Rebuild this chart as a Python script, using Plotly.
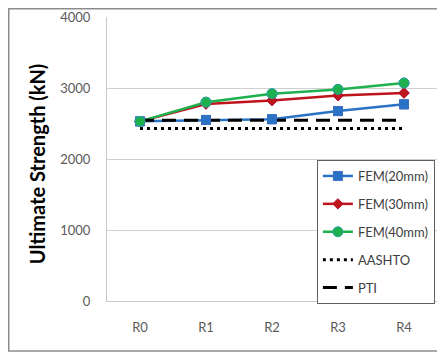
import plotly.graph_objects as go

categories = ["R0", "R1", "R2", "R3", "R4"]
fem20 = [2530, 2550, 2560, 2675, 2770]
fem30 = [2530, 2775, 2825, 2895, 2930]
fem40 = [2530, 2800, 2920, 2980, 3070]
aashto = [2430, 2430, 2430, 2430, 2430]
pti = [2545, 2545, 2545, 2545, 2545]

FONT = "Lato"
fig = go.Figure()

series = [
    ("FEM(20mm)", fem20, "#2a72c6", "square", 9, "#3b6cc0"),
    ("FEM(30mm)", fem30, "#c0141c", "diamond", 8, "#b01030"),
    ("FEM(40mm)", fem40, "#1fb04e", "circle", 10, "#2aa0a0"),
]
for i, (name, vals, col, sym, sz, edge) in enumerate(series):
    fig.add_trace(go.Scatter(
        x=categories, y=vals, name=name, mode="lines+markers",
        line=dict(color=col, width=2.5),
        marker=dict(symbol=sym, size=sz, color=col, line=dict(color=edge, width=1)),
        legendrank=i + 1, legendgroup=name,
    ))

fig.add_trace(go.Scatter(
    x=categories, y=aashto, name="AASHTO", mode="lines",
    line=dict(color="black", width=3, dash="3px,4px"),
    legendrank=4, legendgroup="AASHTO",
))
fig.add_trace(go.Scatter(
    x=categories, y=pti, name="PTI", mode="lines",
    line=dict(color="black", width=3, dash="14px,8px"),
    legendrank=5, legendgroup="PTI",
))
for name, vals, col, sym, sz, edge in series:
    fig.add_trace(go.Scatter(
        x=categories, y=vals, mode="markers", showlegend=False, hoverinfo="skip",
        marker=dict(symbol=sym, size=sz, color=col, line=dict(color=edge, width=1)),
    ))

fig.update_layout(
    width=437, height=346,
    margin=dict(l=99, r=8, t=9, b=53, autoexpand=False),
    paper_bgcolor="white", plot_bgcolor="white",
    font=dict(family=FONT, size=13, color="#595959"),
    showlegend=True,
    legend=dict(
        x=0.636, y=0.4965, xanchor="left", yanchor="top",
        bgcolor="white", bordercolor="#606060", borderwidth=1,
        font=dict(family=FONT, size=13, color="#404040"),
        tracegroupgap=8,
    ),
    xaxis=dict(
        type="category", range=[-0.5, 4.5], automargin=False,
        showgrid=False, showline=True, linecolor="#c8c8c8", linewidth=1,
        ticks="", ticklabelstandoff=14,
        tickfont=dict(family=FONT, size=13, color="#595959"),
    ),
    yaxis=dict(
        range=[0, 4000], tickvals=[0, 1000, 2000, 3000, 4000], automargin=False,
        showgrid=True, gridcolor="#d0d0d0", gridwidth=1,
        showline=True, linecolor="#c8c8c8", linewidth=1,
        zeroline=False, ticks="", ticklabelstandoff=13,
        tickfont=dict(family=FONT, size=13, color="#595959"),
    ),
    annotations=[dict(
        text="<b>Ultimate Strength (kN)</b>", xref="paper", yref="paper",
        x=-0.212, y=0.482, xanchor="center", yanchor="middle", textangle=-90,
        showarrow=False, font=dict(family=FONT, size=20, color="black"),
    )],
    shapes=[dict(
        type="rect", xref="paper", yref="paper",
        x0=-0.2977, x1=1.04, y0=-0.176, y1=1.029,
        line=dict(color="#8c8c8c", width=1.5), fillcolor="rgba(0,0,0,0)",
        layer="below",
    )],
)

fig.write_html("out.html")
